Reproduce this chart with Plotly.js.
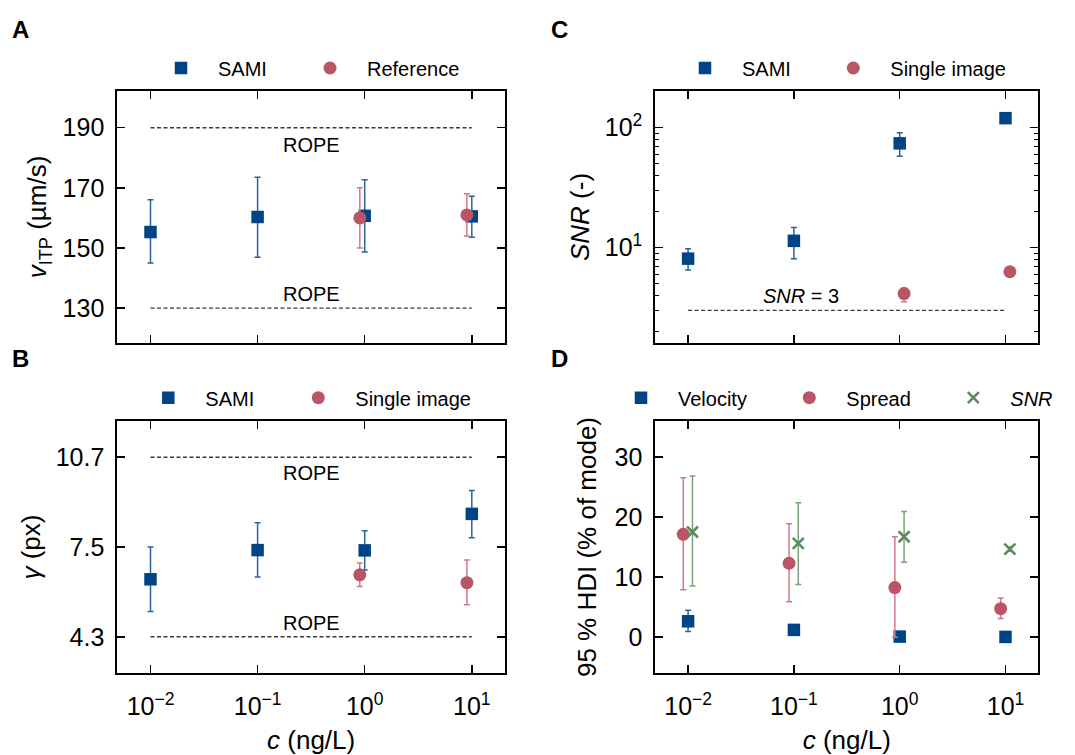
<!DOCTYPE html>
<html>
<head>
<meta charset="utf-8">
<script src="https://cdn.plot.ly/plotly-3.0.1.min.js"></script>
<style>html,body{margin:0;padding:0;background:#fff;}#chart{width:1075px;height:755px;}</style>
</head>
<body>
<div id="chart"></div>
<script>
// ---------- data ----------
const conc = [0.01, 0.1, 1, 10];
const concSub = [1, 10];
const xTickText = ['10<sup>−2</sup>', '10<sup>−1</sup>', '10<sup>0</sup>', '10<sup>1</sup>'];

// Panel A: v_ITP (µm/s)
const vSami = [155.3, 160.3, 160.7, 160.5];
const vSamiLo = [145.0, 146.9, 148.7, 153.6];
const vSamiHi = [166.0, 173.5, 172.7, 167.2];
const vRef = [160.0, 161.0];
const vRefLo = [150.0, 154.0];
const vRefHi = [170.0, 168.0];
const vRope = [130, 190];

// Panel B: gamma (px)
const gSami = [6.35, 7.39, 7.38, 8.68];
const gSamiLo = [5.2, 6.43, 6.68, 7.83];
const gSamiHi = [7.5, 8.36, 8.08, 9.51];
const gSingle = [6.51, 6.23];
const gSingleLo = [6.09, 5.44];
const gSingleHi = [6.93, 7.04];
const gRope = [4.3, 10.7];

// Panel C: SNR (-)
const snrSami = [8.1, 11.4, 74, 120];
const snrSamiLo = [6.5, 8.1, 57.8, 114];
const snrSamiHi = [9.8, 14.7, 90.9, 125];
const snrSingle = [4.14, 6.3];
const snrSingleLo = [3.55, 6.1];
const snrSingleHi = [4.6, 6.5];
const snrLimit = 3;

// Panel D: 95 % HDI (% of mode)
const hdiVel = [2.65, 1.22, 0.1, 0.05];
const hdiVelLo = [0.95, 0.8, 0.0, 0.0];
const hdiVelHi = [4.5, 1.6, 0.2, 0.1];
const hdiSpread = [17.1, 12.3, 8.25, 4.75];
const hdiSpreadLo = [7.9, 5.9, 0.0, 3.1];
const hdiSpreadHi = [26.5, 18.85, 16.7, 6.5];
const hdiSnr = [17.5, 15.6, 16.7, 14.65];
const hdiSnrLo = [8.5, 8.75, 12.45, 14.3];
const hdiSnrHi = [26.8, 22.35, 20.9, 15.0];

// ---------- style ----------
const W = 1075, H = 755;
const FONT = 'Liberation Sans, Arial, sans-serif';
const BLUE = '#004488', BLUE_E = '#2a62a0';
const RED = '#BB5566', RED_E = '#cf7a89';
const GREEN = '#5b8c5a', GREEN_E = '#7aa279';
const DODGE_L = 0.9, DODGE_R = 1.1;

const fx = p => p / W;
const fy = p => 1 - p / H;

function errs(v, lo, hi, color) {
  return {type: 'data', symmetric: false,
    array: v.map((d, i) => hi[i] - d),
    arrayminus: v.map((d, i) => d - lo[i]),
    color: color, thickness: 1.5, width: 3};
}
function pts(xs, v, lo, hi, xa, ya, sym, col, ecol, name, leg, size) {
  const m = {color: col, size: size || 12.5, symbol: sym};
  if (sym === 'x-thin') m.line = {color: col, width: 2.6};
  return {type: 'scatter', mode: 'markers', x: xs, y: v, xaxis: xa, yaxis: ya,
    name: name, legend: leg, marker: m, error_y: errs(v, lo, hi, ecol), cliponaxis: false};
}
function hline(yv, xa, ya) {
  return {type: 'scatter', mode: 'lines', x: [conc[0], conc[conc.length - 1]], y: [yv, yv],
    xaxis: xa, yaxis: ya, showlegend: false, hoverinfo: 'skip',
    line: {color: '#3a3a3a', width: 1.4, dash: '4px,2.5px'}};
}

const left = conc.map(c => c * DODGE_L);
const right = conc.map(c => c * DODGE_R);
const leftSub = concSub.map(c => c * DODGE_L);
const rightSub = concSub.map(c => c * DODGE_R);

const traces = [
  hline(vRope[0], 'x', 'y'), hline(vRope[1], 'x', 'y'),
  pts(conc, vSami, vSamiLo, vSamiHi, 'x', 'y', 'square', BLUE, BLUE_E, 'SAMI', 'legend'),
  pts(leftSub, vRef, vRefLo, vRefHi, 'x', 'y', 'circle', RED, RED_E, 'Reference', 'legend2', 13),

  hline(snrLimit, 'x2', 'y2'),
  pts(conc, snrSami, snrSamiLo, snrSamiHi, 'x2', 'y2', 'square', BLUE, BLUE_E, 'SAMI', 'legend3'),
  pts(rightSub, snrSingle, snrSingleLo, snrSingleHi, 'x2', 'y2', 'circle', RED, RED_E, 'Single image', 'legend4', 13),

  hline(gRope[0], 'x3', 'y3'), hline(gRope[1], 'x3', 'y3'),
  pts(conc, gSami, gSamiLo, gSamiHi, 'x3', 'y3', 'square', BLUE, BLUE_E, 'SAMI', 'legend5'),
  pts(leftSub, gSingle, gSingleLo, gSingleHi, 'x3', 'y3', 'circle', RED, RED_E, 'Single image', 'legend6', 13),

  pts(conc, hdiVel, hdiVelLo, hdiVelHi, 'x4', 'y4', 'square', BLUE, BLUE_E, 'Velocity', 'legend7'),
  pts(left, hdiSpread, hdiSpreadLo, hdiSpreadHi, 'x4', 'y4', 'circle', RED, RED_E, 'Spread', 'legend8', 13),
  pts(right, hdiSnr, hdiSnrLo, hdiSnrHi, 'x4', 'y4', 'x-thin', GREEN, GREEN_E, '<i>SNR</i>', 'legend9', 11)
];

// ---------- axes ----------
const boxL = [117.3, 505], boxR = [655.3, 1038.3];
const boxT = [90.7, 343.3], boxB = [420.7, 673.3];
const axBase = {showline: true, linecolor: '#000', linewidth: 2, mirror: 'ticks',
  ticks: 'inside', ticklen: 8, tickwidth: 1.5, tickcolor: '#000', showgrid: false,
  zeroline: false, tickfont: {family: FONT, size: 25, color: '#000'}, fixedrange: true};
function xax(dom, anchor, labels) {
  const a = Object.assign({}, axBase, {type: 'log', domain: [fx(dom[0]), fx(dom[1])], anchor: anchor,
    range: [-2.31, 1.31], tickmode: 'array', tickvals: conc, ticktext: xTickText,
    showticklabels: labels, ticklabelstandoff: 10});
  if (labels) a.title = {text: '<i>c</i> (ng/L)', font: {family: FONT, size: 26, color: '#000'}, standoff: 14};
  return a;
}
function yax(dom, anchor, extra, title, standoff) {
  return Object.assign({}, axBase, {domain: [fy(dom[1]), fy(dom[0])], anchor: anchor,
    ticklabelstandoff: 6,
    title: {text: title, font: {family: FONT, size: 26, color: '#000'}, standoff: standoff}}, extra);
}

const legFont = {family: FONT, size: 20, color: '#000'};
function leg(symX, symY) {
  return {x: fx(symX - 37), y: fy(symY), xanchor: 'left', yanchor: 'middle', orientation: 'h',
    bgcolor: 'rgba(0,0,0,0)', borderwidth: 0, font: legFont, itemwidth: 64};
}

function ropeNote(xa, ya, yv, shift, txt, xl) {
  return {xref: xa, yref: ya, x: xl, y: yv, text: txt, showarrow: false, yshift: shift,
    xanchor: 'center', yanchor: 'middle', font: {family: FONT, size: 20, color: '#000'}};
}
function letter(t, x, y) {
  return {xref: 'paper', yref: 'paper', x: fx(x), y: fy(y), text: '<b>' + t + '</b>', showarrow: false,
    xanchor: 'left', yanchor: 'middle', font: {family: FONT, size: 24, color: '#000'}};
}

const layout = {
  width: W, height: H, margin: {l: 0, r: 0, t: 0, b: 0},
  paper_bgcolor: '#fff', plot_bgcolor: '#fff', font: {family: FONT, color: '#000'},
  xaxis: xax(boxL, 'y', false),
  yaxis: yax(boxT, 'x', {range: [118.3, 202.3], tickmode: 'array', tickvals: [130, 150, 170, 190]},
    '<i>v</i><sub>ITP</sub> (µm/s)', 8),
  xaxis2: xax(boxR, 'y2', false),
  yaxis2: yax(boxT, 'x2', {type: 'log', range: [0.203, 2.308], tickmode: 'array', tickvals: [10, 100],
    ticktext: ['10<sup>1</sup>', '10<sup>2</sup>'],
    minor: {ticks: 'inside', ticklen: 4, tickwidth: 1.2, tickcolor: '#000', dtick: 'D1', showgrid: false}},
    '<i>SNR</i> (-)', 8),
  xaxis3: xax(boxL, 'y3', true),
  yaxis3: yax(boxB, 'x3', {range: [3, 12], tickmode: 'array', tickvals: [4.3, 7.5, 10.7],
    ticktext: ['4.3', '7.5', '10.7']}, '<i>γ</i> (px)', 8),
  xaxis4: xax(boxR, 'y4', true),
  yaxis4: yax(boxB, 'x4', {range: [-6, 36], tickmode: 'array', tickvals: [0, 10, 20, 30]},
    '95 % HDI (% of mode)', 10),
  legend: leg(181, 68), legend2: leg(330, 68),
  legend3: leg(705, 68), legend4: leg(853.3, 68),
  legend5: leg(168.3, 397.7), legend6: leg(318.3, 397.7),
  legend7: leg(641, 397.7), legend8: leg(809.3, 397.7), legend9: leg(973.3, 397.7),
  annotations: [
    letter('A', 10, 29), letter('C', 549, 29), letter('B', 10, 358), letter('D', 549, 358),
    ropeNote('x', 'y', vRope[1], -17.3, 'ROPE', -0.5),
    ropeNote('x', 'y', vRope[0], 13.7, 'ROPE', -0.5),
    ropeNote('x3', 'y3', gRope[1], -16, 'ROPE', -0.5),
    ropeNote('x3', 'y3', gRope[0], 13.4, 'ROPE', -0.5),
    ropeNote('x2', 'y2', Math.log10(snrLimit), 14, '<i>SNR</i> = 3', -0.93)
  ]
};

Plotly.newPlot('chart', traces, layout, {staticPlot: true, displayModeBar: false});
</script>
</body>
</html>
